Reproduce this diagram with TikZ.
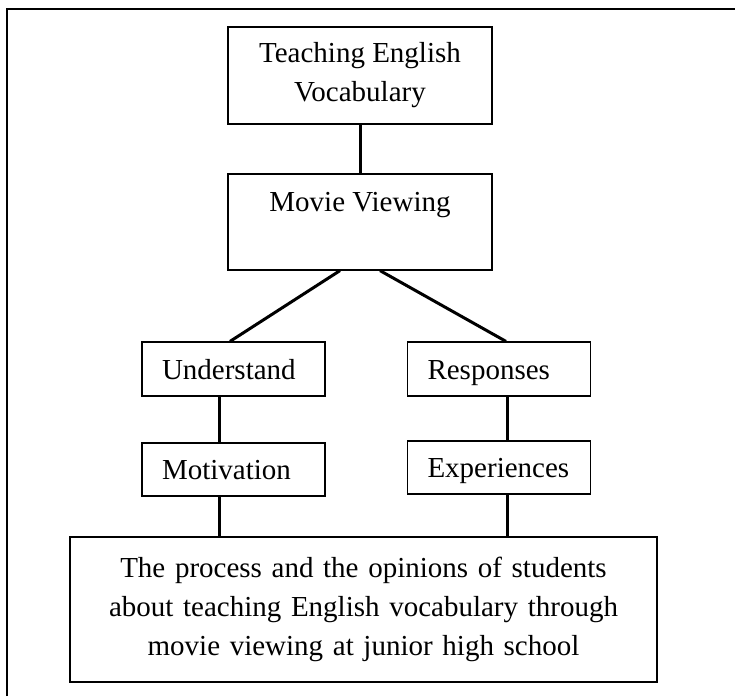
\documentclass[tikz,border=0pt]{standalone}
\usepackage{fontspec}
\setmainfont{Liberation Serif}

\begin{document}
\begin{tikzpicture}[x=1pt, y=-1pt,
  box/.style={draw, line width=1.2pt, font=\fontsize{29}{39}\selectfont},
  tag/.style={box, text width=143pt, inner xsep=20pt, text height=20pt, text depth=0pt,
    minimum height=54pt, align=left},
  link/.style={line width=3pt}]
\useasboundingbox (0,0) rectangle (735,696);
\draw[line width=2pt] (7,696) -- (7,9) -- (735,9);
% boxes
\node[box, minimum width=264pt, minimum height=97pt, align=center] (vocab) at (360,75.5) {Teaching English\\Vocabulary};
\node[box, minimum width=264pt, minimum height=96pt, text depth=40pt] (movie) at (360,222) {Movie Viewing};
\node[tag] (und) at (233.5,369) {Understand};
\node[tag] (resp) at (499,369) {Responses};
\node[tag, minimum height=53pt] (mot) at (233.5,469.5) {Motivation};
\node[tag, minimum height=53pt] (exp) at (499,467.5) {Experiences};
\node[box, text width=560pt, inner xsep=13.5pt, minimum height=145pt, align=center] (res) at (363.5,609.5)
  {The process and the opinions of students\\about teaching English vocabulary through\\movie viewing at junior high school};
% connectors
\draw[link] (vocab.south) -- (movie.north);
\draw[link] ([xshift=-20pt]movie.south) -- ([xshift=-3.5pt]und.north);
\draw[link] ([xshift=20pt]movie.south) -- ([xshift=7pt]resp.north);
\draw[link] ([xshift=-14.5pt]und.south) -- ([xshift=-14.5pt]mot.north);
\draw[link] ([xshift=8pt]resp.south) -- ([xshift=8pt]exp.north);
\coordinate (m) at ([xshift=-14.5pt]mot.south);
\coordinate (e) at ([xshift=8pt]exp.south);
\draw[link] (m) -- (m |- res.north);
\draw[link] (e) -- (e |- res.north);
\end{tikzpicture}
\end{document}
